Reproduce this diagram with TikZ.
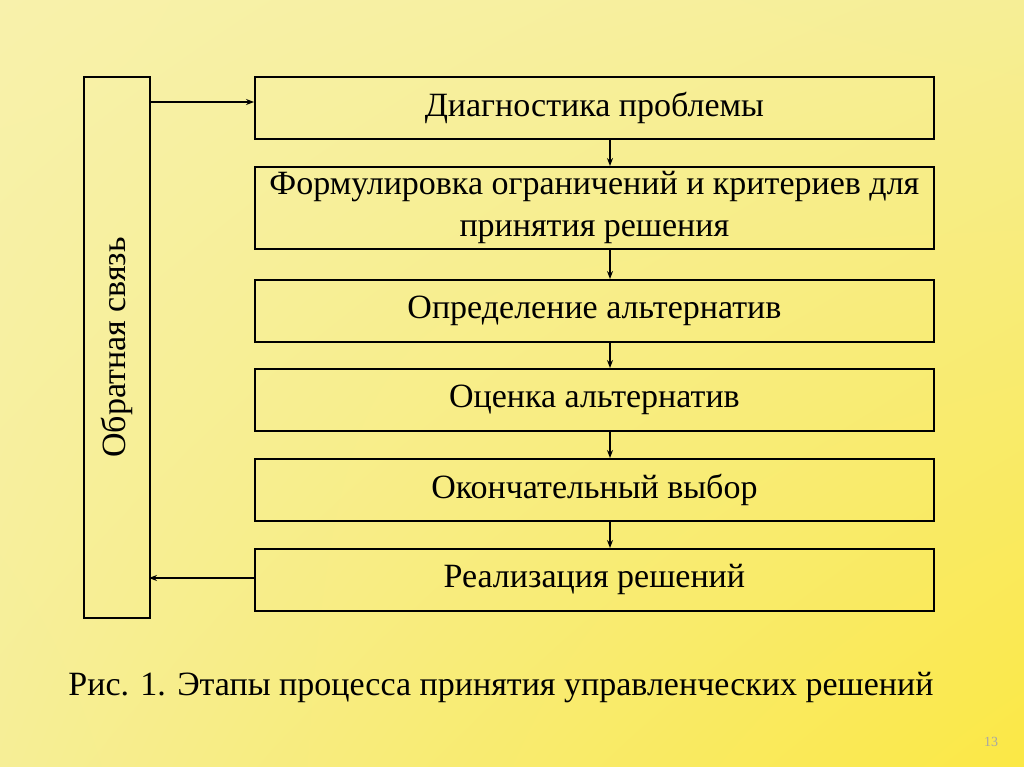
\documentclass[tikz,border=0pt]{standalone}
\usepackage{fontspec}
\setmainfont{Liberation Serif}
\usetikzlibrary{arrows.meta,shadings}
\definecolor{bgA}{HTML}{F6EE96}
\definecolor{bgB}{HTML}{FBE845}
\begin{document}
\begin{tikzpicture}[x=1pt,y=-1pt,
  stage/.style={draw=black,line width=1.8pt,minimum width=679pt,anchor=north west,align=center,font=\fontsize{34}{42}\selectfont,inner sep=0pt},
  conn/.style={line width=1.2pt,-{Stealth[length=8pt,width=6pt]}}]
\shade[upper left=bgA!80!white,upper right=bgA,lower left=bgA,lower right=bgB] (0,0) rectangle (1024,767);
\useasboundingbox (0,0) rectangle (1024,767);
\node[stage,minimum height=62pt] (s1) at (254,76) {Диагностика проблемы};
\node[stage,minimum height=82pt] (s2) at (254,166) {Формулировка ограничений и критериев для\\принятия решения};
\node[stage,minimum height=62pt] (s3) at (254,279) {Определение альтернатив};
\node[stage,minimum height=62pt] (s4) at (254,368) {Оценка альтернатив};
\node[stage,minimum height=62pt] (s5) at (254,458) {Окончательный выбор};
\node[stage,minimum height=62pt] (s6) at (254,548) {Реализация решений};
\node[draw=black,line width=1.8pt,minimum width=66pt,minimum height=541pt,anchor=north west,inner sep=0pt] (fb) at (83,76) {};
\node[rotate=90,font=\fontsize{34}{40}\selectfont] (fbt) at (fb.center) {Обратная связь};
\foreach \a/\b in {s1/s2,s2/s3,s3/s4,s4/s5,s5/s6}
  \draw[conn] (\a.south -| 610,0) -- (\b.north -| 610,0);
\coordinate (f1) at (149,102);
\coordinate (f2) at (149,578);
\draw[conn] (f1) -- (s1.west |- f1);
\draw[conn] (s6.west |- f2) -- (f2);
\node[font=\fontsize{34}{40}\selectfont] (cap) at (501,688) {Рис. 1. Этапы процесса принятия управленческих решений};
\node[font=\fontsize{14}{16}\selectfont,text=black!35] (pg) at (991,742) {13};
\end{tikzpicture}
\end{document}
